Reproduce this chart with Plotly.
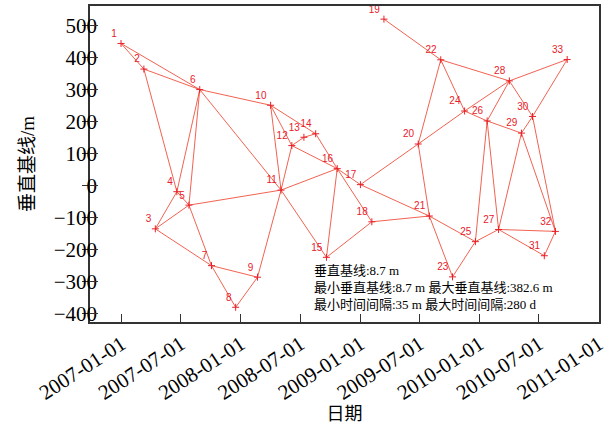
import plotly.graph_objects as go

# ---- data ----
ids = [str(i) for i in range(1, 34)]
dates = [
    "2006-12-30", "2007-03-10", "2007-04-14", "2007-06-19", "2007-07-26",
    "2007-08-28", "2007-10-03", "2007-12-16", "2008-02-21", "2008-04-01",
    "2008-05-03", "2008-06-05", "2008-07-12", "2008-08-17", "2008-09-19",
    "2008-10-22", "2009-01-01", "2009-02-05", "2009-03-14", "2009-06-27",
    "2009-07-31", "2009-09-04", "2009-10-10", "2009-11-16", "2009-12-19",
    "2010-01-24", "2010-02-28", "2010-04-02", "2010-05-09", "2010-06-12",
    "2010-07-18", "2010-08-21", "2010-09-26",
]
baselines = [
    444, 364, -135, -19, -61, 300, -250, -380, -286, 251,
    -14, 125, 151, 162, -224, 53, 3, -113, 520, 130,
    -95, 393, -285, 233, -175, 202, -137, 327, 164, 216,
    -219, -143, 394,
]
# interferometric pairs (scene numbers)
pairs = [
    (1, 2), (1, 6), (2, 6), (2, 4), (6, 4), (6, 5), (6, 10), (6, 11),
    (4, 5), (4, 3), (3, 5), (3, 7), (5, 7), (5, 11), (7, 9), (7, 8),
    (8, 9), (9, 11), (10, 11), (10, 12), (10, 14), (12, 13), (13, 14),
    (12, 11), (12, 16), (14, 16), (11, 16), (11, 15), (16, 17), (16, 15),
    (16, 18), (15, 18), (17, 21), (17, 20), (18, 21), (20, 21), (20, 22),
    (20, 24), (19, 22), (22, 24), (22, 28), (24, 28), (24, 26), (26, 28),
    (26, 29), (26, 25), (26, 27), (28, 33), (28, 30), (30, 33), (30, 29),
    (30, 32), (29, 32), (29, 27), (21, 23), (21, 25), (23, 25), (25, 27),
    (27, 32), (27, 31), (31, 32),
]
x_ticks = ["2007-01-01", "2007-07-01", "2008-01-01", "2008-07-01", "2009-01-01",
           "2009-07-01", "2010-01-01", "2010-07-01", "2011-01-01"]
y_ticks = [500, 400, 300, 200, 100, 0, -100, -200, -300, -400]
info_lines = [
    "垂直基线:8.7 m",
    "最小垂直基线:8.7 m 最大垂直基线:382.6 m",
    "最小时间间隔:35 m 最大时间间隔:280 d",
]

# ---- build figure ----
lx, ly = [], []
for a, b in pairs:
    lx += [dates[a - 1], dates[b - 1], None]
    ly += [baselines[a - 1], baselines[b - 1], None]

fig = go.Figure()
fig.add_trace(go.Scatter(
    x=lx, y=ly, mode="lines",
    line=dict(color="rgba(238,70,50,0.85)", width=1),
    hoverinfo="skip", showlegend=False,
))
fig.add_trace(go.Scatter(
    x=dates, y=baselines, mode="markers+text",
    text=ids, textposition="top left",
    textfont=dict(family="Liberation Sans", size=10, color="#e8202a"),
    marker=dict(symbol="cross-thin", size=5, line=dict(width=1, color="#e8202a")),
    showlegend=False,
))
# invisible trace to carry the secondary (inside-tick) y axis
fig.add_trace(go.Scatter(
    x=[dates[0]], y=[0], yaxis="y2", mode="markers",
    marker=dict(opacity=0), hoverinfo="skip", showlegend=False,
))

serif = "Liberation Serif, Noto Sans CJK SC"
yr = [-426, 561]
fig.update_layout(
    width=614, height=424,
    margin=dict(l=90, r=15, t=6, b=102),
    paper_bgcolor="white", plot_bgcolor="white",
    font=dict(family=serif, color="black"),
    xaxis=dict(
        type="date", range=["2006-09-26", "2011-01-01 12:00"],
        tickvals=x_ticks, ticktext=x_ticks, tickangle=-33,
        ticks="inside", ticklen=8, tickcolor="#333",
        showline=True, linecolor="#333", linewidth=1.5, mirror=True,
        showgrid=False, zeroline=False, automargin=False,
        tickfont=dict(family=serif, size=21),
        title=dict(text="日期", font=dict(family=serif, size=18), standoff=4),
    ),
    yaxis=dict(
        range=yr, tickvals=y_ticks,
        ticks="outside", ticklen=6, tickcolor="#333",
        ticklabelstandoff=-19,
        showline=True, linecolor="#333", linewidth=1.5, mirror=True,
        showgrid=False, zeroline=False, automargin=False,
        tickfont=dict(family=serif, size=21),
        title=dict(text="垂直基线/m", font=dict(family=serif, size=19), standoff=14),
    ),
    yaxis2=dict(
        range=yr, tickvals=y_ticks, overlaying="y", side="left",
        ticks="inside", ticklen=8, tickcolor="#333", automargin=False,
        showticklabels=False, showgrid=False, zeroline=False, showline=False,
    ),
)

for i, t in enumerate(info_lines):
    fig.add_annotation(
        xref="paper", yref="paper", x=0.436, y=0.162 - i * 0.053,
        text=t, showarrow=False, xanchor="left", yanchor="middle",
        font=dict(family=serif, size=13, color="black"),
    )

fig.write_html("out.html", config={"displayModeBar": False},
               post_script="document.body.style.margin='0';")
